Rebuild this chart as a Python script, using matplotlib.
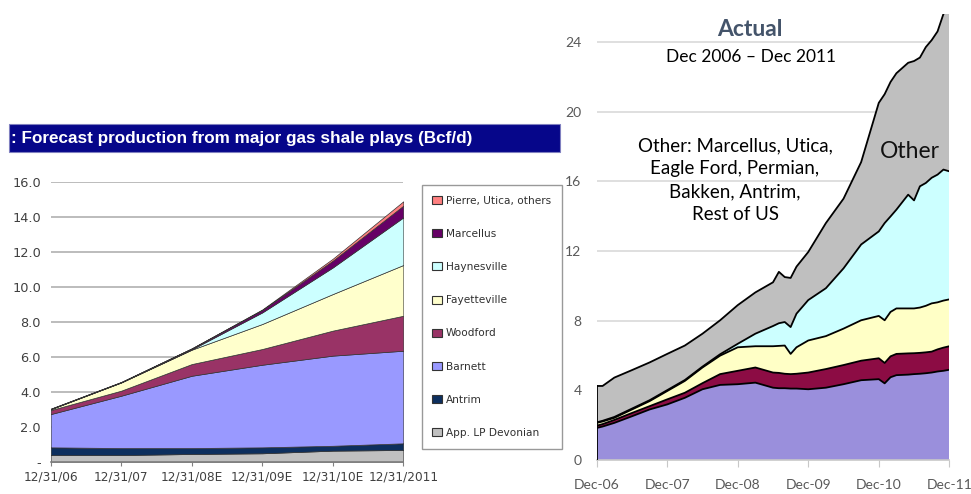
import numpy as np
import matplotlib
matplotlib.use("Agg")
import matplotlib.pyplot as plt
from matplotlib.patches import Patch, Rectangle

W, H = 971, 494

# ---------------- left chart: forecast (Bcf/d), stacked by play ----------------
fc_labels = ["12/31/06", "12/31/07", "12/31/08E", "12/31/09E", "12/31/10E", "12/31/2011"]
fc_devonian = [0.38, 0.38, 0.44, 0.48, 0.63, 0.67]
fc_antrim = [0.44, 0.40, 0.34, 0.34, 0.28, 0.38]
fc_barnett = [1.90, 2.99, 4.13, 4.72, 5.15, 5.29]
fc_woodford = [0.23, 0.29, 0.67, 0.90, 1.43, 2.00]
fc_fayetteville = [0.05, 0.47, 0.82, 1.43, 2.09, 2.90]
fc_haynesville = [0.00, 0.00, 0.02, 0.66, 1.52, 2.72]
fc_marcellus = [0.02, 0.02, 0.05, 0.14, 0.39, 0.67]
fc_pierre = [0.01, 0.01, 0.01, 0.03, 0.11, 0.25]

fc_names = ["App. LP Devonian", "Antrim", "Barnett", "Woodford",
            "Fayetteville", "Haynesville", "Marcellus", "Pierre, Utica, others"]
fc_colors = ["#c0c0c0", "#0d2f5e", "#9999ff", "#993366",
             "#ffffcc", "#ccffff", "#660066", "#ff8080"]

# ---------------- right chart: actual, monthly offsets from Dec 2006 ----------------
act_months = [0, 1, 3, 6, 9, 12, 15, 18, 21, 24, 27, 30, 31, 32, 33, 34, 36, 39,
              42, 45, 48, 49, 50, 51, 53, 54, 55, 56, 57, 58, 59, 60]
act_barnett = [1.84, 1.92, 2.13, 2.51, 2.90, 3.19, 3.57, 4.06, 4.31, 4.35, 4.44,
               4.15, 4.12, 4.12, 4.10, 4.10, 4.06, 4.15, 4.35, 4.58, 4.64, 4.40,
               4.75, 4.87, 4.90, 4.93, 4.95, 4.98, 5.02, 5.08, 5.12, 5.18]
act_woodford = [0.13, 0.14, 0.17, 0.19, 0.19, 0.29, 0.29, 0.35, 0.62, 0.77, 0.87,
                0.87, 0.88, 0.83, 0.83, 0.85, 0.96, 1.07, 1.10, 1.12, 1.20, 1.17,
                1.20, 1.22, 1.22, 1.20, 1.20, 1.20, 1.20, 1.27, 1.33, 1.35]
act_fayetteville = [0.16, 0.15, 0.12, 0.20, 0.29, 0.48, 0.68, 0.90, 1.06, 1.35, 1.22,
                    1.51, 1.55, 1.62, 1.16, 1.52, 1.84, 1.89, 2.09, 2.32, 2.43, 2.45,
                    2.55, 2.61, 2.58, 2.57, 2.60, 2.67, 2.77, 2.70, 2.70, 2.69]
act_haynesville = [0.03, 0.04, 0.05, 0.05, 0.05, 0.05, 0.05, 0.05, 0.08, 0.20, 0.72,
                   1.16, 1.30, 1.35, 1.54, 1.93, 2.32, 2.75, 3.46, 4.35, 4.85, 5.58,
                   5.48, 5.67, 6.53, 6.20, 6.96, 7.05, 7.21, 7.33, 7.52, 7.35]
act_other = [2.09, 2.00, 2.26, 2.21, 2.17, 2.08, 1.98, 1.89, 1.95, 2.22, 2.37,
             2.51, 2.95, 2.58, 2.82, 2.70, 2.76, 3.74, 4.00, 4.73, 7.38, 7.40,
             7.72, 7.83, 7.57, 8.00, 7.39, 7.80, 7.90, 8.22, 8.93, 9.43]
act_ticks = ["Dec-06", "Dec-07", "Dec-08", "Dec-09", "Dec-10", "Dec-11"]
act_colors = ["#9a8fdc", "#8c0c44", "#ffffc6", "#ccffff", "#bfbfbf"]


def fig_rect(x0, y0, x1, y1):
    # pixel box (top-left origin) -> figure fraction rect
    return [x0 / W, 1 - y1 / H, (x1 - x0) / W, (y1 - y0) / H]


fig = plt.figure(figsize=(W / 100, H / 100), dpi=100)

# title bar of the left chart
fig.patches.append(Rectangle((9 / W, 1 - 152 / H), (560 - 9) / W, 28 / H,
                             transform=fig.transFigure, facecolor="#06068a",
                             edgecolor="#8080c0", linewidth=0.8))
fig.text(11 / W, 1 - 138 / H, ": Forecast production from major gas shale plays (Bcf/d)",
         color="white", fontsize=12.3, fontweight="bold", family="Liberation Sans",
         va="center", ha="left")

# ---- left axes ----
ax1 = fig.add_axes(fig_rect(50.7, 181.7, 403.3, 461.7))
x1 = np.arange(len(fc_labels))
fc_layers = [fc_devonian, fc_antrim, fc_barnett, fc_woodford,
             fc_fayetteville, fc_haynesville, fc_marcellus, fc_pierre]
ax1.stackplot(x1, fc_layers, colors=fc_colors, edgecolor="#333333",
              linewidth=0.5, zorder=2)
ax1.set_xlim(0, 5)
ax1.set_ylim(0, 16)
ax1.set_yticks(np.arange(0, 17, 2))
ax1.set_yticklabels(["-"] + [f"{v:.1f}" for v in np.arange(2, 17, 2)])
ax1.set_xticks(x1)
ax1.set_xticklabels(fc_labels)
ax1.grid(axis="y", color="#b0b0b0", linewidth=1.2, zorder=0)
ax1.set_axisbelow(True)
for s in ["top", "right", "left"]:
    ax1.spines[s].set_visible(False)
ax1.spines["bottom"].set_color("#808080")
ax1.spines["bottom"].set_linewidth(1.2)
ax1.tick_params(axis="y", length=0, pad=7, labelsize=9.3, labelcolor="#404040")
ax1.tick_params(axis="x", length=3, color="#808080", pad=3, labelsize=8.7,
                labelcolor="#404040")

handles = [Patch(facecolor=c, edgecolor="#333333", linewidth=0.8)
           for c in fc_colors][::-1]
fig.legend(handles, fc_names[::-1], loc="upper left",
           bbox_to_anchor=(421.7 / W, 1 - 185 / H), frameon=True, fancybox=False,
           edgecolor="#808080", borderaxespad=0, fontsize=7.6, labelspacing=2.2,
           handlelength=0.9, handleheight=0.8, handletextpad=0.4, borderpad=1.0,
           labelcolor="#303030")

# ---- right axes ----
ax2 = fig.add_axes(fig_rect(596.7, 14, 949.3, 460))
act_layers = [act_barnett, act_woodford, act_fayetteville, act_haynesville, act_other]
ax2.stackplot(act_months, act_layers, colors=act_colors, linewidth=0, zorder=2)
tops = np.cumsum(np.array(act_layers), axis=0)
for t in tops:
    ax2.plot(act_months, t, color="black", linewidth=1.3, zorder=3)
ax2.plot([act_months[0], act_months[0]], [0, tops[-1][0]], color="black",
         linewidth=1.3, zorder=3)
ax2.set_xlim(0, 60)
ax2.set_ylim(0, 25.6)
ax2.set_yticks(np.arange(0, 25, 4))
ax2.set_xticks(np.arange(0, 61, 12))
ax2.set_xticklabels(act_ticks)
ax2.grid(axis="y", color="#d9d9d9", linewidth=1.2, zorder=0)
ax2.set_axisbelow(True)
for s in ["top", "right", "left"]:
    ax2.spines[s].set_visible(False)
ax2.spines["bottom"].set_color("#c8c8c8")
ax2.spines["bottom"].set_linewidth(1.2)
ax2.tick_params(axis="y", length=0, pad=11, labelsize=10, labelcolor="#595959")
ax2.tick_params(axis="x", length=5, color="#c8c8c8", pad=9, labelsize=10,
                labelcolor="#595959")
for lab in ax2.get_xticklabels() + ax2.get_yticklabels():
    lab.set_family("Lato")

fig.text(750 / W, 1 - 30 / H, "Actual", color="#44546a", fontsize=16.5,
         fontweight="bold", family="Lato", ha="center", va="center")
fig.text(751 / W, 1 - 57 / H, "Dec 2006 \u2013 Dec 2011", color="black",
         fontsize=12.5, family="Lato", ha="center", va="center")
fig.text(735 / W, 1 - 180 / H,
         "Other: Marcellus, Utica,\nEagle Ford, Permian,\nBakken, Antrim,\nRest of US",
         color="black", fontsize=13.5, family="Lato", ha="center", va="center",
         linespacing=1.42)
fig.text(910 / W, 1 - 152 / H, "Other", color="#111111", fontsize=16.5,
         family="Lato", ha="center", va="center")

fig.savefig("out.png", dpi=100)
